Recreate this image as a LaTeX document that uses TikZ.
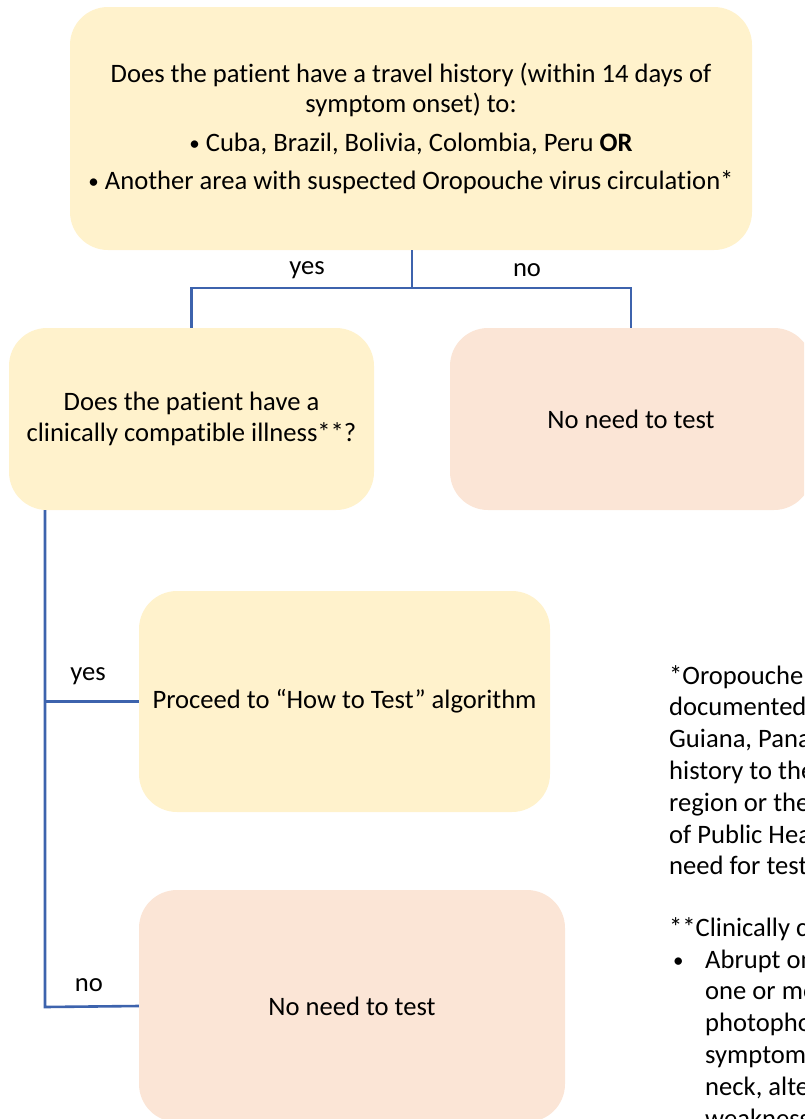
\documentclass[tikz,border=0pt]{standalone}
\usepackage{fontspec}
\setmainfont[Ligatures=NoCommon]{Carlito}
\definecolor{askfill}{HTML}{FFF2CC}
\definecolor{stopfill}{HTML}{FBE5D6}
\definecolor{link}{HTML}{3D63AD}
\newcommand{\dotmark}{{\fontsize{21}{30}\selectfont\raisebox{1pt}{•}}}
\begin{document}
\begin{tikzpicture}[x=1pt,y=-1pt,
  txt/.style={font=\fontsize{26.6}{30.5}\selectfont},
  card/.style={txt, rectangle, rounded corners=38pt, inner sep=0pt, align=center},
  ask/.style={card, fill=askfill},
  stop/.style={card, fill=stopfill},
  wire/.style={draw=link, line width=2.6pt},
  lbl/.style={txt, inner sep=0pt},
  note/.style={txt, inner sep=0pt, anchor=base west}]
\useasboundingbox (0,0) rectangle (804,1119);
\clip (0,0) rectangle (804,1119);

% decision boxes
\node[ask, minimum width=682pt, minimum height=243pt] (travel) at (411,128.5)
  {Does the patient have a travel history (within 14 days of\\
   symptom onset) to:\\[8pt]
   \dotmark{} Cuba, Brazil, Bolivia, Colombia, Peru \textbf{OR}\\[8pt]
   \dotmark{} Another area with suspected Oropouche virus circulation*};
\node[ask, minimum width=365pt, minimum height=182pt] (illness) at (191.5,419)
  {Does the patient have a\\ clinically compatible illness**?};
\node[stop, minimum width=362pt, minimum height=182pt] (notest1) at (631,419)
  {No need to test};
\node[ask, minimum width=411pt, minimum height=221pt] (howto) at (344.5,701.5)
  {Proceed to “How to Test” algorithm};
\node[stop, minimum width=426pt, minimum height=232pt] (notest2) at (352,1006)
  {No need to test};

% first split
\coordinate (split) at (412,288);
\draw[wire] (travel.south -| split) -- (split);
\draw[wire] (illness.north) |- (split) -| (notest1.north);
\node[lbl] (yes1) at (307,270) {yes};
\node[lbl] (no1) at (527,270) {no};

% second split
\coordinate (trunk) at (45,510);
\coordinate (trunkend) at (45,1007);
\draw[wire] (trunk) -- (trunkend) -- (notest2.west);
\draw[wire] (howto.west -| trunk) -- (howto.west);
\node[lbl] (yes2) at (88,676) {yes};
\node[lbl] (no2) at (89,985) {no};

% footnotes
\foreach \t [count=\i from 0] in {*Oropouche virus, documented in, {Guiana, Panama}, history to the, region or the, of Public Health, need for testing}
  \node[note] (fn\i) at (669,{684+31.8*\i}) {\t};
\node[note] (fnb) at (669,936) {**Clinically compatible};
\node[note] (dot) at (673,968) {\dotmark};
\foreach \t [count=\i from 0] in {Abrupt onset, one or more, photophobia, symptoms, {neck, altered}, weakness}
  \node[note] (cc\i) at (705,{968+31.8*\i}) {\t};
\end{tikzpicture}
\end{document}
